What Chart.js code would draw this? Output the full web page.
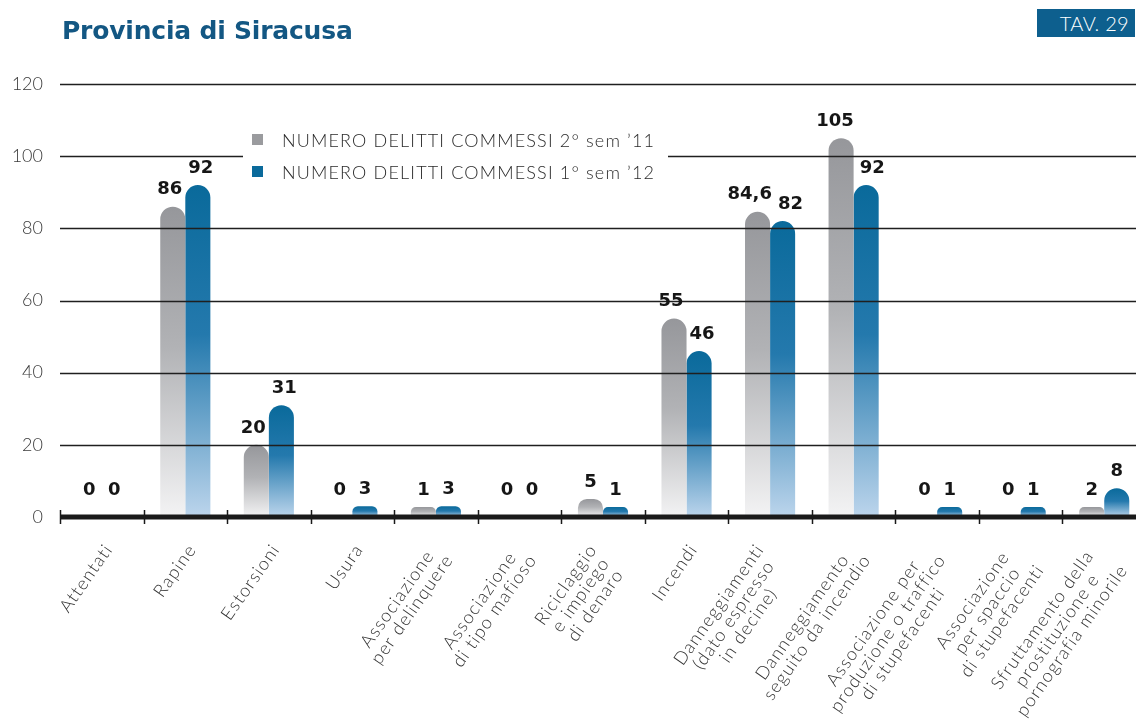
<!DOCTYPE html>
<html>
<head>
<meta charset="utf-8">
<script src="https://cdn.jsdelivr.net/npm/chart.js@4/dist/chart.umd.min.js"></script>
<style>
  html, body { margin: 0; padding: 0; background: #fff; overflow: hidden; }
  #wrap { position: absolute; left: 0; top: 0; width: 1146px; height: 719px; }
  #title { position: absolute; left: 62px; top: 16px; font: bold 25px "DejaVu Sans", sans-serif; color: #135783; letter-spacing: -0.2px; }
  #tav { position: absolute; left: 1037px; top: 9px; width: 98px; height: 28px; background: #0d5f8e; color: #fff;
         font: 300 20px Lato, "Liberation Sans", sans-serif; line-height: 28px; text-align: right; padding-right: 6px;
         letter-spacing: 0.3px; box-sizing: border-box; }
</style>
</head>
<body>
<div id="wrap"><canvas id="chart"></canvas></div>
<div id="title">Provincia di Siracusa</div>
<div id="tav">TAV. 29</div>
<script>
// categorie (etichette su più righe)
const categories = [
  ['Attentati'],
  ['Rapine'],
  ['Estorsioni'],
  ['Usura'],
  ['Associazione', 'per delinquere'],
  ['Associazione', 'di tipo mafioso'],
  ['Riciclaggio', 'e impiego', 'di denaro'],
  ['Incendi'],
  ['Danneggiamenti', '(dato espresso', 'in decine)'],
  ['Danneggiamento', 'seguito da incendio'],
  ['Associazione per', 'produzione o traffico', 'di stupefacenti'],
  ['Associazione', 'per spaccio', 'di stupefacenti'],
  ['Sfruttamento della', 'prostituzione e', 'pornografia minorile']
];
const sem2_11 = [0, 86, 20, 0, 1, 0, 5, 55, 84.6, 105, 0, 0, 2];
const sem1_12 = [0, 92, 31, 3, 3, 0, 1, 46, 82, 92, 1, 1, 8];
const seriesLabels = ['NUMERO DELITTI COMMESSI 2° sem \u201911', 'NUMERO DELITTI COMMESSI 1° sem \u201912'];
const yTicks = [0, 20, 40, 60, 80, 100, 120];

const GRAY = ['#96979b', '#b1b2b5', '#f3f3f4'];
const BLUE = ['#0a6a9b', '#2479ad', '#bcd5ec'];
const MIN_BAR = 10;

// gradiente per singola barra, dalla cima alla base
function barFill(stops) {
  return (ctx) => {
    if (ctx.type === 'data' && ctx.raw === 0) return 'rgba(0,0,0,0)';
    const chart = ctx.chart;
    if (!chart.chartArea || ctx.type !== 'data') return stops[0];
    const y = chart.scales.y;
    const base = y.getPixelForValue(0);
    const top = Math.min(y.getPixelForValue(ctx.raw), base - MIN_BAR);
    const g = chart.ctx.createLinearGradient(0, top, 0, base);
    g.addColorStop(0, stops[0]);
    g.addColorStop(0.45, stops[1]);
    g.addColorStop(1, stops[2]);
    return g;
  };
}

const fmt = v => String(v).replace('.', ',');

const overlay = {
  id: 'overlay',
  afterDatasetsDraw(chart) {
    const c = chart.ctx;
    const area = chart.chartArea;
    const x = chart.scales.x, y = chart.scales.y;
    const base = y.getPixelForValue(0);
    const W = chart.width;
    c.save();

    // griglia sopra le barre
    c.strokeStyle = '#1f1f1f';
    c.lineWidth = 1.5;
    yTicks.filter(v => v > 0).forEach(v => {
      const py = Math.round(y.getPixelForValue(v)) + 0.5;
      c.beginPath(); c.moveTo(area.left, py); c.lineTo(W, py); c.stroke();
    });

    // asse x spesso con tacche
    c.strokeStyle = '#1a1a1a';
    c.lineWidth = 5;
    c.beginPath(); c.moveTo(area.left, base); c.lineTo(W, base); c.stroke();
    const cw = (area.right - area.left) / categories.length;
    c.lineWidth = 1.5;
    for (let i = 0; i <= categories.length; i++) {
      const px = Math.round(area.left + i * cw) + 0.5;
      c.beginPath(); c.moveTo(px, base - 7); c.lineTo(px, base + 7); c.stroke();
    }

    // legenda
    c.fillStyle = '#fff';
    c.fillRect(243, 124, 425, 66);
    const legY = [140, 172];
    c.font = '300 18px Lato, "Liberation Sans", sans-serif';
    c.textBaseline = 'middle';
    c.textAlign = 'left';
    seriesLabels.forEach((t, i) => {
      c.letterSpacing = '0px';
      const ls = Math.max(0, (373 - c.measureText(t).width) / t.length);
      c.letterSpacing = ls.toFixed(2) + 'px';
      c.fillStyle = i === 0 ? '#9a9b9e' : BLUE[0];
      c.fillRect(252, legY[i] - 6, 11, 11);
      c.fillStyle = '#2a2a2a';
      c.fillText(t, 282, legY[i] + 1);
    });
    c.letterSpacing = '0px';

    // valori sopra le barre (coppie allontanate se si sovrappongono)
    c.font = 'bold 18px "DejaVu Sans", sans-serif';
    c.fillStyle = '#161616';
    c.textAlign = 'center';
    const m0 = chart.getDatasetMeta(0).data, m1 = chart.getDatasetMeta(1).data;
    categories.forEach((_, i) => {
      const t0 = fmt(sem2_11[i]), t1 = fmt(sem1_12[i]);
      let x0 = m0[i].x, x1 = m1[i].x;
      const w0 = c.measureText(t0).width, w1 = c.measureText(t1).width;
      const gap = (x1 - w1 / 2) - (x0 + w0 / 2);
      if (gap < 6) { x0 -= (6 - gap) / 2; x1 += (6 - gap) / 2; }
      c.fillText(t0, x0, Math.min(m0[i].y - 17, base - 26));
      c.fillText(t1, x1, Math.min(m1[i].y - 17, base - 26));
    });

    // etichette categorie ruotate
    c.font = '300 18px Lato, "Liberation Sans", sans-serif';
    c.letterSpacing = '1.2px';
    c.fillStyle = '#333';
    c.textAlign = 'center';
    c.textBaseline = 'alphabetic';
    const lh = 18, cap = 13;
    categories.forEach((lines, i) => {
      const cx = x.getPixelForValue(i);
      const n = lines.length;
      const wMax = Math.max(...lines.map(l => c.measureText(l).width));
      c.save();
      c.translate(cx + 1 - 8.5 * (n - 1), base + 25);
      c.rotate(-55 * Math.PI / 180);
      lines.forEach((l, k) => {
        c.fillText(l, -wMax / 2, cap + k * lh);
      });
      c.restore();
    });
    c.letterSpacing = '0px';
    c.restore();
  }
};

new Chart(document.getElementById('chart'), {
  type: 'bar',
  data: {
    labels: categories.map(l => l.join(' ')),
    datasets: [
      { label: seriesLabels[0], data: sem2_11, backgroundColor: barFill(GRAY) },
      { label: seriesLabels[1], data: sem1_12, backgroundColor: barFill(BLUE) }
    ]
  },
  options: {
    responsive: true,
    maintainAspectRatio: false,
    animation: false,
    layout: { padding: { top: 84, right: 0, bottom: 0, left: 0 } },
    datasets: {
      bar: { categoryPercentage: 0.6, barPercentage: 1, borderRadius: 13, borderWidth: 0, minBarLength: MIN_BAR }
    },
    plugins: { legend: { display: false }, tooltip: { enabled: false } },
    scales: {
      x: {
        grid: { display: false },
        border: { display: false },
        ticks: { display: false },
        afterFit: s => { s.height = 202; }
      },
      y: {
        min: 0, max: 120,
        afterBuildTicks: s => { s.ticks = yTicks.map(v => ({ value: v })); },
        grid: { display: false, drawTicks: false },
        border: { display: false },
        ticks: { padding: 17, color: '#3a3a3a', font: { family: 'Lato, "Liberation Sans", sans-serif', size: 18, weight: 300 } },
        afterFit: s => { s.width = 60; }
      }
    }
  },
  plugins: [overlay]
});
</script>
</body>
</html>
